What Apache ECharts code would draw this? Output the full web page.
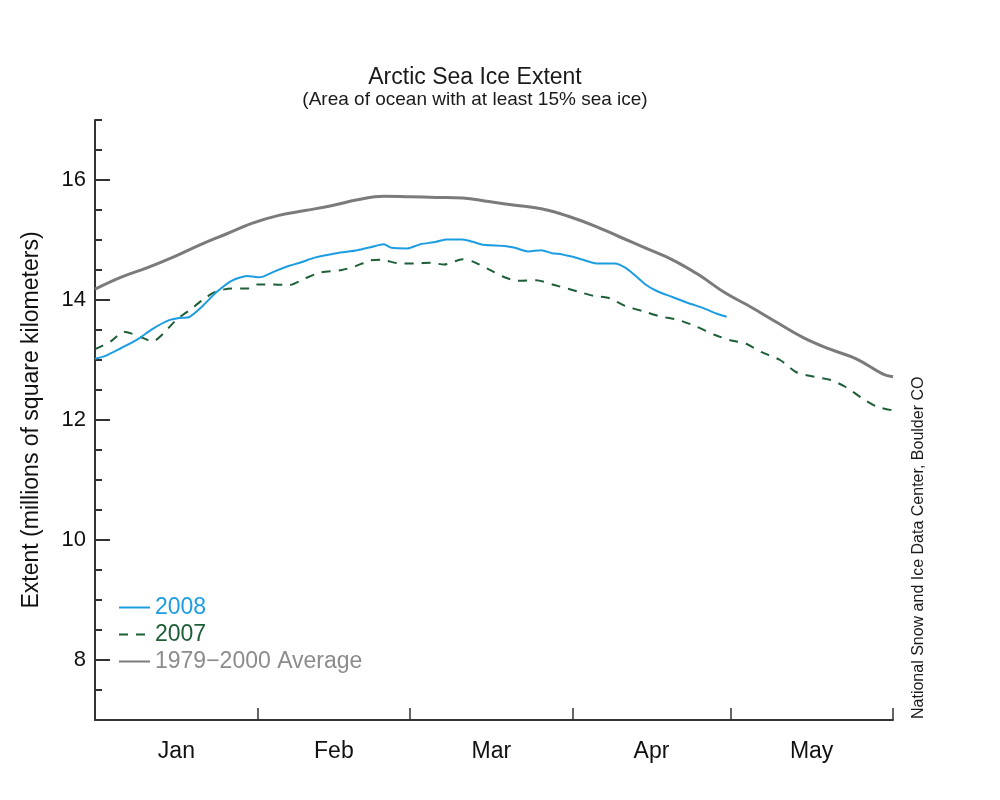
<!DOCTYPE html>
<html>
<head>
<meta charset="utf-8">
<script src="https://cdn.jsdelivr.net/npm/echarts@6/dist/echarts.min.js"></script>
<style>html,body{margin:0;padding:0;background:#fff}#c{width:1000px;height:800px}</style>
</head>
<body>
<div id="c"></div>
<script>
// Day of year (0 = Jan 1, 2008 leap year) and extent (million km²)
var monthStarts = [0, 31, 60, 91, 121, 152];
var monthNames = ['Jan', 'Feb', 'Mar', 'Apr', 'May'];
var yLabelTicks = [8, 10, 12, 14, 16];

var avgDays = [0,5,10,15,20,25,30,35,40,45,50,55,60,65,70,75,80,85,90,95,100,105,110,115,120,125,130,135,140,145,150,152];
var avgVals = [14.18,14.38,14.54,14.72,14.92,15.10,15.28,15.41,15.49,15.57,15.67,15.73,15.72,15.71,15.70,15.64,15.58,15.52,15.40,15.24,15.05,14.86,14.67,14.42,14.12,13.88,13.62,13.37,13.18,13.02,12.77,12.72];

var y2008Days = [0,2,5,8,11,14,16,18,20.5,23,26,29,31,32,34,37,39,42,46,50,52.5,55,56.5,59.5,61,62,65,67,70,72,74,78,80,82.5,85,87,89,91,93,95.5,99,101,103,105,107,110,113,116,118.5,120.3];
var y2008Vals = [13.02,13.07,13.20,13.34,13.52,13.66,13.70,13.72,13.90,14.12,14.32,14.40,14.38,14.39,14.47,14.57,14.62,14.71,14.78,14.83,14.88,14.93,14.87,14.86,14.90,14.93,14.97,15.01,15.01,14.97,14.92,14.90,14.87,14.81,14.83,14.78,14.76,14.72,14.67,14.61,14.61,14.54,14.40,14.25,14.15,14.05,13.95,13.86,13.77,13.72];

var y2007Days = [0,3,5.5,7,8.5,11,13,15.5,18,20.5,23,26,29,31,34,37,40,43,47,49.5,52.5,54.5,58,61,64,66.5,70,72,75,78,80.5,84,87.5,92,95,98,101,104.5,107.5,111,114.5,118,121,124,127,130.5,133.5,137,140,143,146,149,152];
var y2007Vals = [13.18,13.31,13.47,13.44,13.39,13.31,13.44,13.67,13.83,14.00,14.14,14.19,14.19,14.26,14.26,14.25,14.36,14.46,14.50,14.56,14.66,14.67,14.61,14.61,14.62,14.59,14.68,14.64,14.51,14.38,14.32,14.33,14.25,14.14,14.07,14.03,13.90,13.81,13.73,13.67,13.56,13.42,13.33,13.27,13.13,13.00,12.80,12.72,12.67,12.55,12.37,12.22,12.16];

function zip(a, b) { return a.map(function (d, i) { return [d, b[i]]; }); }
var monthMids = monthNames.map(function (m, i) { return (monthStarts[i] + monthStarts[i + 1]) / 2; });
var minorTicks = [];
for (var v = 7; v <= 17; v += 0.5) { if (yLabelTicks.indexOf(v) < 0) minorTicks.push(v); }

var FONT = '"Liberation Sans", Arial, Helvetica, sans-serif';
var AX = '#333333';
var C2008 = '#1c9de2', C2007 = '#1d5e36', CAVG = '#7b7b7b';

var chart = echarts.init(document.getElementById('c'), null, { renderer: 'canvas' });
chart.setOption({
  animation: false,
  backgroundColor: '#ffffff',
  textStyle: { fontFamily: FONT },
  grid: { left: 95, right: 107, top: 120, bottom: 80, containLabel: false },
  graphic: [
    { type: 'text', x: 475, y: 78, style: { text: 'Arctic Sea Ice Extent', fontSize: 23, fontFamily: FONT, fill: '#1a1a1a', align: 'center', verticalAlign: 'middle' } },
    { type: 'text', x: 475, y: 100, style: { text: '(Area of ocean with at least 15% sea ice)', fontSize: 19, fontFamily: FONT, fill: '#1a1a1a', align: 'center', verticalAlign: 'middle' } },
    { type: 'text', x: 919, y: 719, rotation: Math.PI / 2, style: { text: 'National Snow and Ice Data Center, Boulder CO', fontSize: 16, fontFamily: FONT, fill: '#1a1a1a', align: 'left', verticalAlign: 'middle' } }
  ],
  legend: {
    orient: 'vertical', left: 118, top: 596, padding: 0, itemWidth: 31, itemHeight: 20, itemGap: 4,
    itemStyle: { opacity: 0 },
    textStyle: { fontSize: 23, fontFamily: FONT, lineHeight: 23 },
    data: [
      { name: '2008', textStyle: { color: C2008 } },
      { name: '2007', textStyle: { color: C2007 } },
      { name: '1979\u22122000 Average', textStyle: { color: '#8c8c8c' } }
    ]
  },
  xAxis: {
    type: 'value', min: 0, max: 152,
    axisLine: { show: true, lineStyle: { color: AX, width: 2 } },
    axisTick: { show: true, inside: true, length: 12, customValues: monthStarts.slice(1), lineStyle: { color: AX, width: 1.5 } },
    axisLabel: {
      customValues: monthMids, margin: 20, fontSize: 23, color: '#111', fontFamily: FONT,
      formatter: function (val) { var i = monthMids.indexOf(val); return i >= 0 ? monthNames[i] : ''; }
    },
    splitLine: { show: false }
  },
  yAxis: [
    {
      type: 'value', min: 7, max: 17,
      name: 'Extent (millions of square kilometers)', nameLocation: 'middle', nameGap: 52, nameRotate: 90,
      nameTextStyle: { fontSize: 23, color: '#111', fontFamily: FONT },
      axisLine: { show: true, lineStyle: { color: AX, width: 2 } },
      axisTick: { show: true, inside: true, length: 15, customValues: yLabelTicks, lineStyle: { color: AX, width: 2 } },
      axisLabel: { customValues: yLabelTicks, margin: 9, fontSize: 22, color: '#111', fontFamily: FONT },
      splitLine: { show: false }
    },
    {
      type: 'value', min: 7, max: 17, position: 'left',
      axisLine: { show: false },
      axisTick: { show: true, inside: true, length: 7, customValues: minorTicks, lineStyle: { color: AX, width: 2 } },
      axisLabel: { show: false },
      splitLine: { show: false }
    }
  ],
  series: [
    { name: '1979\u22122000 Average', type: 'line', data: zip(avgDays, avgVals), smooth: 0.4, symbol: 'none', lineStyle: { color: CAVG, width: 3 }, itemStyle: { color: CAVG }, z: 2 },
    { name: '2007', type: 'line', data: zip(y2007Days, y2007Vals), smooth: 0.25, symbol: 'none', lineStyle: { color: C2007, width: 2, type: [9, 8] }, itemStyle: { color: C2007 }, z: 3 },
    { name: '2008', type: 'line', data: zip(y2008Days, y2008Vals), smooth: 0.25, symbol: 'none', lineStyle: { color: C2008, width: 2 }, itemStyle: { color: C2008 }, z: 4 }
  ]
});
</script>
</body>
</html>
